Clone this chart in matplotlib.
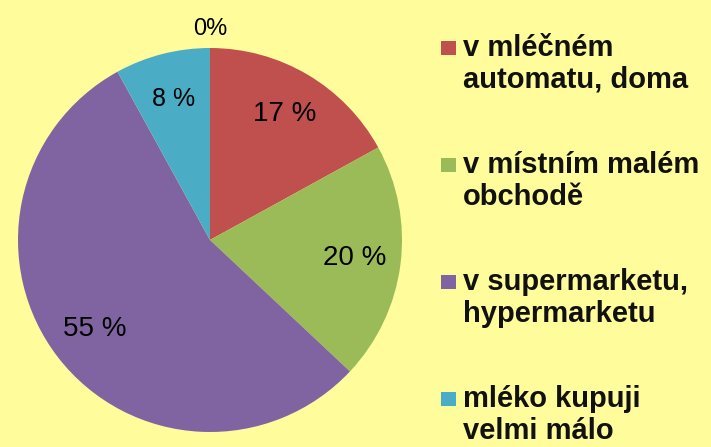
import matplotlib
matplotlib.use("Agg")
from matplotlib import pyplot as plt
from matplotlib.patches import Rectangle
import numpy as np

# data
categories = ["v mléčném\nautomatu, doma", "v místním malém\nobchodě",
              "v supermarketu,\nhypermarketu", "mléko kupuji\nvelmi málo", ""]
shares = [17, 20, 55, 8, 0]
pct_labels = ["17 %", "20 %", "55 %", "8 %", "0%"]
colors = ["#C0504D", "#9BBB59", "#8064A2", "#4BACC6", "#F79646"]

bg = "#FFFC9C"
plt.rcParams['font.family'] = ['Liberation Sans', 'DejaVu Sans']

fig = plt.figure(figsize=(7.11, 4.47), dpi=100, facecolor=bg)
W, H = 711, 447

# pie axes: centre (210, 240), radius 192 px
ax = fig.add_axes([18 / W, 15 / H, 384 / W, 384 / H])
ax.set_facecolor(bg)
wedges, _ = ax.pie(shares, colors=colors, startangle=90, counterclock=False,
                   radius=1, wedgeprops=dict(linewidth=0))
ax.set_xlim(-1, 1)
ax.set_ylim(-1, 1)
ax.axis('off')

for w, val, lab in zip(wedges, shares, pct_labels):
    theta = np.deg2rad((w.theta1 + w.theta2) / 2)
    dist = 0.76 if val > 0 else 1.1
    size = 20 if val >= 10 else (18 if val > 0 else 17)
    ax.text(dist * np.cos(theta), dist * np.sin(theta), lab,
            ha='center', va='center', fontsize=size, color='black')

# legend drawn by hand (four entries, the empty category has none)
first_base = 56
step = 117
line_gap = 32
for i, (lab, col) in enumerate(zip(categories[:4], colors[:4])):
    base = first_base + i * step
    fig.patches.append(Rectangle((441 / W, 1 - (base - 1) / H), 15 / W, 14 / H,
                                 transform=fig.transFigure, facecolor=col,
                                 edgecolor='none'))
    for j, line in enumerate(lab.split("\n")):
        fig.text(463 / W, 1 - (base + j * line_gap) / H, line,
                 ha='left', va='baseline', fontsize=21, fontweight='bold',
                 color='#111111')

fig.savefig("out.png", dpi=100, facecolor=bg)
